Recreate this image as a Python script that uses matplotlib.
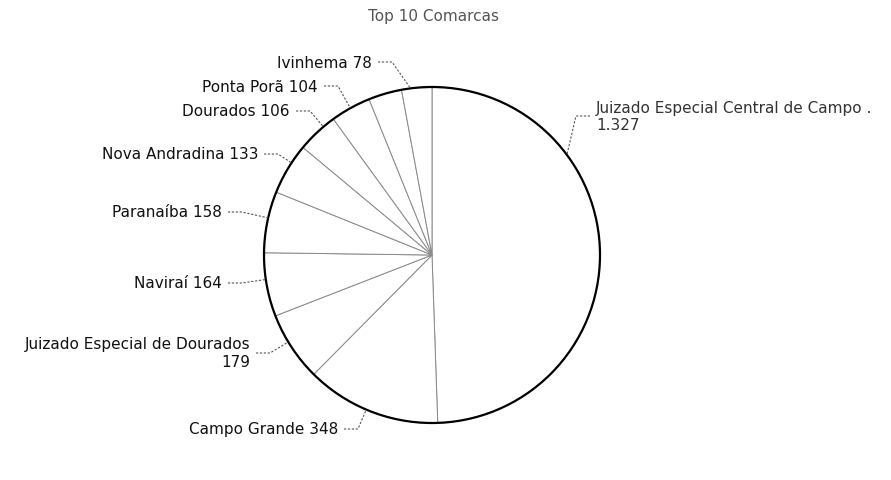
import numpy as np
import matplotlib.pyplot as plt

# Top 10 comarcas, clockwise from 12 o'clock
comarcas = ["Juizado Especial Central de Campo .", "Campo Grande",
            "Juizado Especial de Dourados", "Naviraí", "Paranaíba",
            "Nova Andradina", "Dourados", "Ponta Porã", "(sem rótulo)",
            "Ivinhema"]
valores = [1327, 348, 179, 164, 158, 133, 106, 104, 86, 78]
mostrar = [True, True, True, True, True, True, True, True, False, True]

# label anchor (image px: x, y) and side, per slice
label_pos = [(596, 117, "left"), (338, 430, "right"), (250, 354, "right"),
             (222, 284, "right"), (222, 213, "right"), (258, 155, "right"),
             (290, 112, "right"), (318, 87, "right"), None, (372, 63, "right")]


def fmt(v):
    return f"{v:,}".replace(",", ".")


W, H = 891, 481
cx, cy, R = 432, 256, 168

fig = plt.figure(figsize=(W / 100, H / 100), dpi=100)
ax = fig.add_axes([0, 0, 1, 1])

# y axis is flipped, so counterclock in data = clockwise on screen
wedges, _ = ax.pie(valores, center=(cx, cy), radius=R, startangle=-90,
                   counterclock=True, frame=True,
                   colors=["white"] * len(valores),
                   wedgeprops=dict(edgecolor="#8a8a8a", linewidth=0.7))
ax.set_xlim(0, W)
ax.set_ylim(H, 0)
ax.axis("off")
ax.add_patch(plt.Circle((cx, cy), R, fill=False, ec="black", lw=1.6))

ax.text(434, 17, "Top 10 Comarcas", ha="center", va="center",
        fontsize=11, color="#555555")

for i, w in enumerate(wedges):
    if not mostrar[i]:
        continue
    lx, ly, side = label_pos[i]
    if i == 0:
        txt = f"{comarcas[i]}\n{fmt(valores[i])}"
        color = "#333333"
    elif i == 2:
        txt = f"{comarcas[i]}\n{fmt(valores[i])}"
        color = "#111111"
    else:
        txt = f"{comarcas[i]} {fmt(valores[i])}"
        color = "#111111"
    ha = "left" if side == "left" else "right"
    ax.text(lx, ly, txt, ha=ha, va="center", multialignment=ha,
            fontsize=11, color=color, linespacing=1.25)

    # connector: short horizontal piece then to the pie edge
    d = -1 if side == "left" else 1
    x0 = lx + d * 6
    x1 = lx + d * 20
    ang = np.degrees(np.arctan2(ly - cy, x1 - cx))
    t1, t2 = w.theta1, w.theta2
    m = 0.3 * (t2 - t1)
    # bring knee angle into the wedge's range
    while ang < t1 - 180:
        ang += 360
    while ang > t2 + 180:
        ang -= 360
    ang = min(max(ang, t1 + m), t2 - m)
    ex = cx + R * np.cos(np.radians(ang))
    ey = cy + R * np.sin(np.radians(ang))
    ax.plot([x0, x1, ex], [ly, ly, ey], color="#555555", lw=0.8,
            linestyle=(0, (2, 1.5)))

fig.savefig("out.png", dpi=100, facecolor="white")
